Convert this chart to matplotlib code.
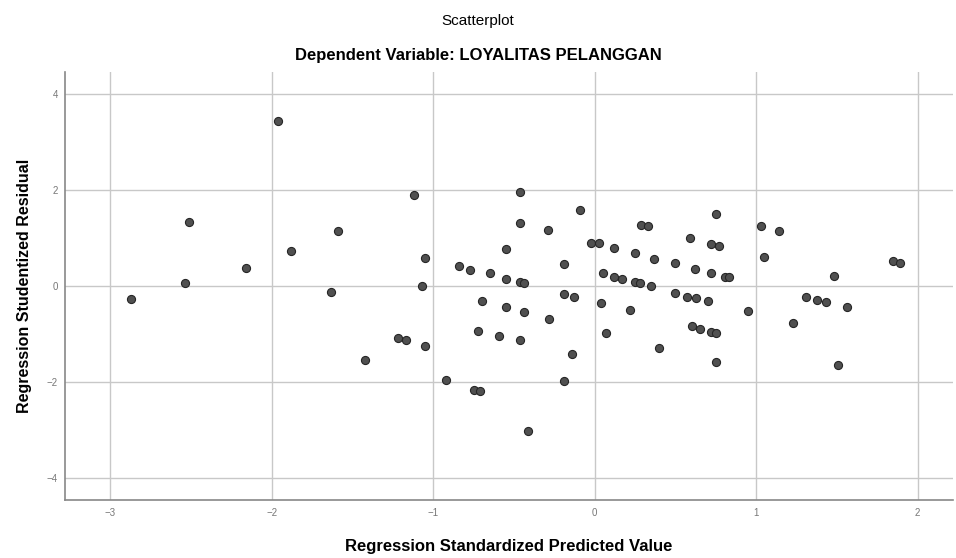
import matplotlib.pyplot as plt

# Regression Standardized Predicted Value
pred = [-1.96, -1.12, -2.51, -1.59, -1.88, -2.16, -1.05, -0.84, -0.77, -0.65,
        -0.55, -0.55, -2.54, -1.63, -1.07, -2.87, -0.70, -0.55, -0.46, -0.09,
        -0.46, -0.29, -0.02, 0.03, 0.12, 0.25, 0.29, 0.33, 0.37, 0.50,
        0.59, 0.62, 0.75, 0.72, 0.77, 0.72, 0.81, 0.83, 1.03, 1.14,
        1.05, 1.48, 1.85, 1.89, -0.46, -0.44, -0.19, 0.05, 0.12, 0.17,
        0.25, 0.28, 0.35, 0.50, 0.57, 0.63, 0.70, -0.19, -0.13, 0.04,
        1.31, 1.38, 1.43, 1.56, -0.44, 0.22, 0.95, 1.23, -0.72, -0.59,
        -0.46, -0.28, 0.07, 0.40, 0.60, 0.65, 0.72, 0.75, 0.75, 1.51,
        -0.14, -0.19, -0.75, -0.71, -0.41, -1.22, -1.17, -1.05, -1.42, -0.92]

# Regression Studentized Residual
resid = [3.44, 1.90, 1.33, 1.14, 0.72, 0.37, 0.59, 0.42, 0.34, 0.28,
         0.77, 0.14, 0.06, -0.13, 0.00, -0.27, -0.32, -0.44, 1.95, 1.57,
         1.31, 1.16, 0.90, 0.90, 0.80, 0.69, 1.27, 1.24, 0.57, 0.48,
         1.00, 0.35, 1.49, 0.88, 0.84, 0.28, 0.19, 0.18, 1.25, 1.15,
         0.61, 0.21, 0.52, 0.48, 0.08, 0.06, 0.46, 0.28, 0.18, 0.15,
         0.09, 0.07, -0.01, -0.14, -0.22, -0.25, -0.32, -0.17, -0.22, -0.35,
         -0.23, -0.29, -0.34, -0.43, -0.55, -0.50, -0.53, -0.77, -0.93, -1.03,
         -1.13, -0.68, -0.98, -1.28, -0.84, -0.89, -0.95, -0.98, -1.59, -1.64,
         -1.41, -1.98, -2.17, -2.19, -3.02, -1.08, -1.13, -1.24, -1.53, -1.95]

xticks = [-3, -2, -1, 0, 1, 2]
yticks = [-4, -2, 0, 2, 4]

plt.rcParams['font.family'] = ['Liberation Sans', 'DejaVu Sans']

fig = plt.figure(figsize=(9.56, 5.58), dpi=100)
ax = fig.add_axes([0.068, 0.104, 0.929, 0.767])

ax.scatter(pred, resid, s=34, color='#505050', edgecolors='#262626',
           linewidths=0.8, zorder=3)

ax.set_xlim(-3.28, 2.22)
ax.set_ylim(-4.45, 4.45)
ax.set_xticks(xticks)
ax.set_yticks(yticks)
ax.grid(True, color='#c8c8c8', linewidth=1.0)
ax.set_axisbelow(True)

for side in ['top', 'right']:
    ax.spines[side].set_visible(False)
for side in ['left', 'bottom']:
    ax.spines[side].set_color('#888888')
    ax.spines[side].set_linewidth(1.2)

ax.tick_params(length=0, labelsize=7, labelcolor='#777777')
ax.tick_params(axis='x', pad=6)
ax.tick_params(axis='y', pad=5)

ax.set_xlabel('Regression Standardized Predicted Value', fontsize=12,
              fontweight='bold', labelpad=15)
ax.set_ylabel('Regression Studentized Residual', fontsize=11.5,
              fontweight='bold', labelpad=11)

fig.text(0.5, 0.962, 'Scatterplot', ha='center', va='center', fontsize=11)
fig.text(0.5, 0.900, 'Dependent Variable: LOYALITAS PELANGGAN', ha='center',
         va='center', fontsize=12, fontweight='bold')

fig.savefig('out.png', dpi=100)
